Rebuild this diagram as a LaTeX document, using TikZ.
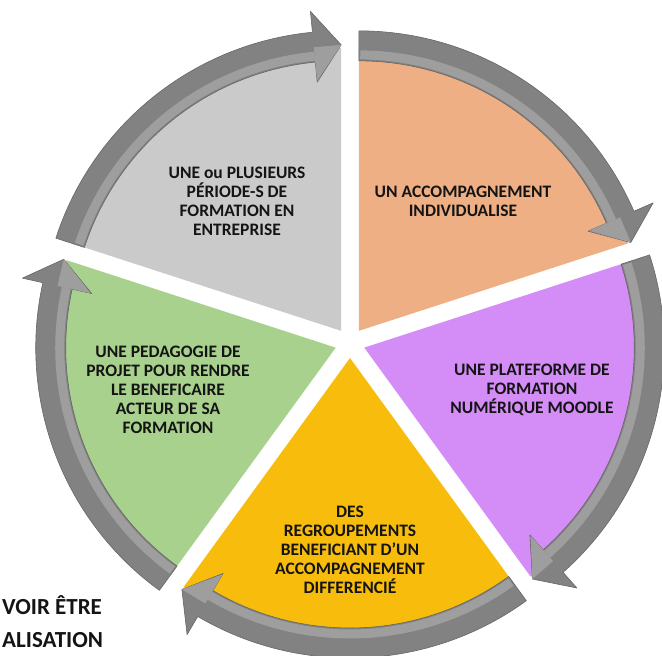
\documentclass[tikz,border=0pt]{standalone}
\usepackage{fontspec}
\setmainfont{Carlito}
\definecolor{cGrey}{HTML}{CACACB}
\definecolor{cOrange}{HTML}{EEAF84}
\definecolor{cPurple}{HTML}{D48DF6}
\definecolor{cYellow}{HTML}{F8BD0C}
\definecolor{cGreen}{HTML}{A9D18E}
\definecolor{bandgray}{HTML}{828282}
\definecolor{bandlight}{HTML}{9E9E9E}
\definecolor{banddark}{HTML}{666666}
\definecolor{txt}{HTML}{141414}
\begin{document}
\begin{tikzpicture}[x=1pt,y=1pt,
  sectortxt/.style={font=\fontsize{17.5}{19}\selectfont\bfseries, align=center, text=txt},
  sidetxt/.style={font=\fontsize{23}{28}\selectfont\bfseries, text=txt, anchor=base west, inner sep=0pt},
  bandfill/.style={fill=bandgray, draw=banddark, line width=0.6pt, line join=round},
  bandhi/.style={draw=bandlight, line width=9pt},
  headhi/.style={fill=bandlight},
]
\useasboundingbox (0,0) rectangle (662,656);
% sectors
\foreach \a/\col in {126/cGrey, 54/cOrange, -18/cPurple, -90/cYellow, 198/cGreen} {
  \begin{scope}[shift={(350,313)}, shift={(\a:15)}]
    \pgfmathsetmacro\s{\a+36}
    \pgfmathsetmacro\e{\a-36}
    \fill[\col] (0,0) -- (\s:283) arc[start angle=\s, end angle=\e, radius=283] -- cycle;
  \end{scope}
}
% circular arrows
\foreach \a in {126, 54, -18, -90, 198} {
  \begin{scope}[shift={(350,313)}, shift={(\a:15)}]
    \pgfmathsetmacro\s{\a+36}
    \pgfmathsetmacro\e{\a-36}
    \pgfmathsetmacro\h{\a-36+5.5}
    \filldraw[bandfill] (\s:270) -- (\s:300) arc[start angle=\s, end angle=\h, radius=300]
      -- (\h:321) -- (\e:286) -- (\h:250) -- (\h:270)
      arc[start angle=\h, end angle=\s, radius=270] -- cycle;
    \draw[bandhi] (\s-0.3:276) arc[start angle=\s-0.3, end angle=\h, radius=276];
    \fill[headhi] (\h:285) -- (\e:286) -- (\h:251) -- cycle;
  \end{scope}
}
% texts
\node[sectortxt] (tgrey) at (237,455) {UNE ou PLUSIEURS\\PÉRIODE-S DE\\FORMATION EN\\ENTREPRISE};
\node[sectortxt] (torange) at (463,454.5) {UN ACCOMPAGNEMENT\\INDIVIDUALISE};
\node[sectortxt] (tpurple) at (532,266) {UNE PLATEFORME DE\\FORMATION\\NUMÉRIQUE MOODLE};
\node[sectortxt] (tyellow) at (350,106.5) {DES\\REGROUPEMENTS\\BENEFICIANT D’UN\\ACCOMPAGNEMENT\\DIFFERENCIÉ};
\node[sectortxt] (tgreen) at (168,266) {UNE PEDAGOGIE DE\\PROJET POUR RENDRE\\LE BENEFICAIRE\\ACTEUR DE SA\\FORMATION};
\node[sidetxt] (side1) at (2,41) {VOIR ÊTRE};
\node[sidetxt] (side2) at (2,8) {ALISATION};
\end{tikzpicture}
\end{document}
